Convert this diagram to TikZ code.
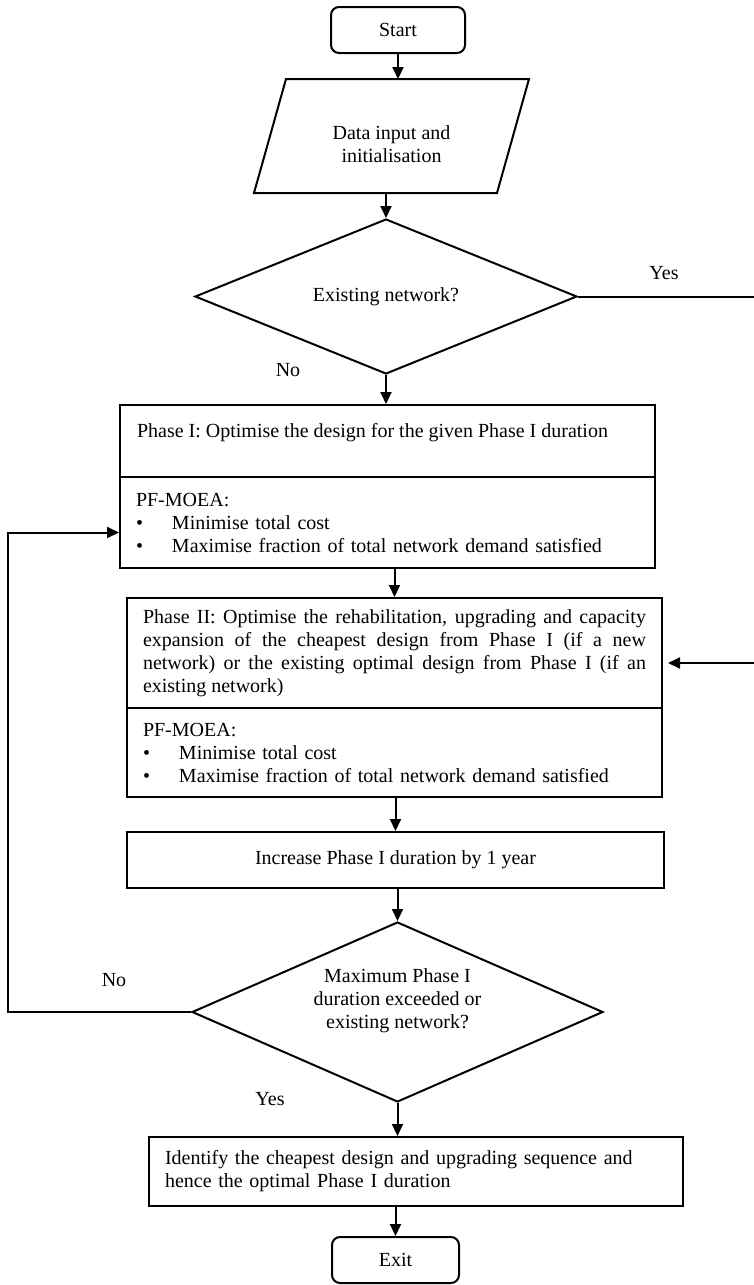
\documentclass[tikz,border=0pt]{standalone}
\usepackage{fontspec}
\setmainfont{Liberation Serif}
\usetikzlibrary{shapes.geometric,arrows.meta}
\tolerance=10000
\hyphenpenalty=10000

\tikzstyle{cterm}=[rectangle, draw, rounded corners=4pt, minimum height=23pt, inner sep=0pt]
\tikzstyle{cio}=[rectangle, minimum width=120.5pt, minimum height=56pt, inner sep=0pt, align=center]
\tikzstyle{cdec}=[diamond, draw, aspect=2.5, inner sep=0pt, align=center]
\tikzstyle{cproc}=[rectangle, draw, inner xsep=8pt, inner ysep=0pt, align=left]
\tikzstyle{carr}=[-{Triangle[length=6pt,width=5.5pt]}]

\begin{document}
\begin{tikzpicture}[x=0.5pt, y=-0.5pt, line width=1pt, font=\fontsize{10}{11.5}\selectfont]
\useasboundingbox (0,0) rectangle (754,1285);

\node[cterm, minimum width=67pt] (start) at (398,30) {Start};
% input box: text sits a little low, outline drawn from the node corners
\node[cio] (data) at (391.5,144) {Data input and\\initialisation};
\draw ([xshift=8pt,yshift=4pt]data.north west) -- ([xshift=8pt,yshift=4pt]data.north east)
  -- ([xshift=-8pt,yshift=4pt]data.south east) -- ([xshift=-8pt,yshift=4pt]data.south west) -- cycle;
\coordinate (datatop) at ([yshift=4pt]data.north);
\coordinate (databot) at ([yshift=4pt]data.south);
\node[cdec, minimum width=191pt, minimum height=77.5pt] (dec1) at (386,296.5) {Existing network?};

% phase I
\node[cproc, minimum width=267.5pt, minimum height=36pt] (ph1a) at (387.5,441) {};
\node[anchor=west, inner sep=0pt] (ph1txt) at ([xshift=8.5pt,yshift=4pt]ph1a.west) {Phase I: Optimise the design for the given Phase I duration};
\node[cproc, text width=251.5pt, minimum height=45.5pt] (ph1b) at (387.5,522.5) {PF-MOEA:\\
\makebox[18pt][l]{\textbullet}Minimise total cost\\
\makebox[18pt][l]{\textbullet}Maximise fraction of total network demand satisfied};

% phase II
\node[cproc, text width=251.5pt, align=justify, minimum height=55pt] (ph2a) at (394.5,653) {Phase II: Optimise the rehabilitation, upgrading and capacity\linebreak
expansion of the cheapest design from Phase I (if a new\linebreak
network) or the existing optimal design from Phase I (if an\linebreak
existing network)};
\node[cproc, text width=251.5pt, minimum height=44.5pt] (ph2b) at (394.5,752.5) {PF-MOEA:\\
\makebox[18pt][l]{\textbullet}Minimise total cost\\
\makebox[18pt][l]{\textbullet}Maximise fraction of total network demand satisfied};

\node[cproc, align=center, minimum width=268.5pt, minimum height=28pt] (inc) at (395.5,860) {Increase Phase I duration by 1 year};
\node[cdec, minimum width=205.5pt, minimum height=90pt] (dec2) at (397.5,1012) {Maximum Phase I\\duration exceeded or\\existing network?\\[2pt]};
\node[cproc, text width=251pt, minimum height=34.5pt] (ident) at (416,1171.5) {Identify the cheapest design and upgrading sequence and\\hence the optimal Phase I duration};
\node[cterm, minimum width=63.5pt] (exit) at (395.5,1260) {Exit};

% branch labels
\node (yes1) at (664,273) {Yes};
\node (no1) at (288,370) {No};
\node (no2) at (114,980) {No};
\node (yes2) at (270,1099) {Yes};

\coordinate (rgt) at (762,0);
\coordinate (lft) at (8,0);

\draw[carr] (start.south) -- (start.south |- datatop);
\draw[carr] (dec1.north |- databot) -- (dec1.north);
\draw[carr] (dec1.south) -- (dec1.south |- ph1a.north);
\draw[carr] (ph2a.north |- ph1b.south) -- (ph2a.north);
\draw[carr] (inc.north |- ph2b.south) -- (inc.north);
\draw[carr] (dec2.north |- inc.south) -- (dec2.north);
\draw[carr] (dec2.south) -- (dec2.south |- ident.north);
\draw[carr] (exit.north |- ident.south) -- (exit.north);
\draw[carr] (dec1.east) -- (dec1.east -| rgt) |- ([xshift=2.5pt,yshift=-5pt]ph2a.east);
\draw[carr] (dec2.west) -- (dec2.west -| lft) |- ([yshift=-5pt]ph1b.west);

\end{tikzpicture}
\end{document}
